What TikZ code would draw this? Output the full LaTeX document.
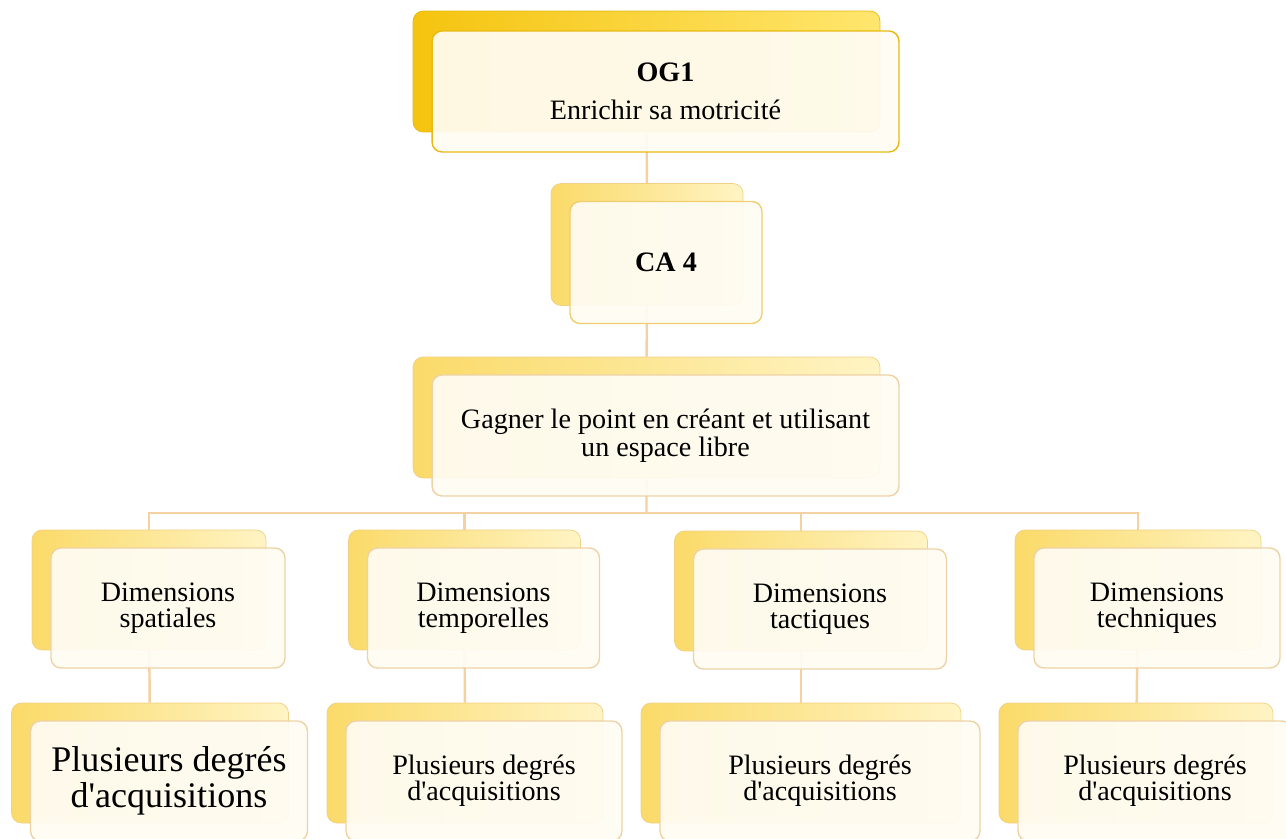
\documentclass[tikz,border=0pt]{standalone}
\usepackage{fontspec}
\setmainfont{Liberation Serif}[Ligatures=TeXOff]
\usetikzlibrary{positioning,backgrounds}

\definecolor{golddark}{RGB}{245,196,15}
\definecolor{goldlight}{RGB}{255,230,110}
\definecolor{goldedge}{RGB}{232,185,20}
\definecolor{backdark}{RGB}{250,218,105}
\definecolor{backlight}{RGB}{255,244,196}
\definecolor{backedge}{RGB}{240,208,130}
\definecolor{cream}{RGB}{255,252,243}
\definecolor{frontedge}{RGB}{238,210,165}
\definecolor{caedge}{RGB}{240,205,110}
\definecolor{linkcol}{RGB}{245,208,160}

\begin{document}
\begin{tikzpicture}[x=0.02cm, y=-0.02cm,
  backbox/.style={rounded corners=0.2cm, draw=backedge, left color=backdark, right color=backlight, xshift=-0.38cm, yshift=0.36cm},
  topback/.style={backbox, draw=goldedge, left color=golddark, right color=goldlight},
  frontbox/.style={rounded corners=0.2cm, draw=frontedge, line width=0.8pt, fill=cream, fill opacity=0.93, text opacity=1, align=center, inner sep=0pt, font=\fontsize{16}{15}\selectfont},
  link/.style={draw=linkcol, line width=1.4pt}]
\useasboundingbox (0,0) rectangle (1286,839);
\clip (0,0) rectangle (1286,839);

% top of the tree
\node[topback, minimum width=9.34cm, minimum height=2.42cm] (og-back) at (665.5,89.5) {};
\node[frontbox, draw=goldedge, minimum width=9.34cm, minimum height=2.42cm] (og) at (665.5,91.5) {\textbf{OG1}\\[7pt]Enrichir sa motricité};

\node[backbox, minimum width=3.84cm, minimum height=2.44cm] (ca-back) at (666,262.5) {};
\node[frontbox, draw=caedge, minimum width=3.84cm, minimum height=2.44cm] (ca) at (666,262.5) {\textbf{CA 4}};

\node[backbox, minimum width=9.34cm, minimum height=2.42cm] (gg-back) at (665.5,435.5) {};
\node[frontbox, minimum width=9.34cm, minimum height=2.42cm, font=\fontsize{16}{16}\selectfont] (gg) at (665.5,435.5) {Gagner le point en créant et utilisant\\un espace libre};

% dimensions
\node[backbox, minimum width=4.68cm, minimum height=2.4cm] (d1-back) at (168,608) {};
\node[frontbox, minimum width=4.68cm, minimum height=2.4cm] (d1) at (168,608) {Dimensions\\spatiales};
\node[backbox, minimum width=4.64cm, minimum height=2.4cm] (d2-back) at (483.5,608) {};
\node[frontbox, minimum width=4.64cm, minimum height=2.4cm] (d2) at (483.5,608) {Dimensions\\temporelles};
\node[backbox, minimum width=5.06cm, minimum height=2.4cm] (d3-back) at (820,609) {};
\node[frontbox, minimum width=5.06cm, minimum height=2.4cm] (d3) at (820,609) {Dimensions\\tactiques};
\node[backbox, minimum width=4.92cm, minimum height=2.4cm] (d4-back) at (1157,608) {};
\node[frontbox, minimum width=4.92cm, minimum height=2.4cm] (d4) at (1157,608) {Dimensions\\techniques};

% degres
\node[backbox, minimum width=5.54cm, minimum height=2.4cm] (p1-back) at (169,781) {};
\node[frontbox, minimum width=5.54cm, minimum height=2.4cm, font=\fontsize{20.5}{20.5}\selectfont] (p1) at (169,781) {Plusieurs degrés\\d'acquisitions};
\node[backbox, minimum width=5.52cm, minimum height=2.4cm] (p2-back) at (484,781) {};
\node[frontbox, minimum width=5.52cm, minimum height=2.4cm] (p2) at (484,781) {Plusieurs degrés\\d'acquisitions};
\node[backbox, minimum width=6.4cm, minimum height=2.4cm] (p3-back) at (820,781) {};
\node[frontbox, minimum width=6.4cm, minimum height=2.4cm] (p3) at (820,781) {Plusieurs degrés\\d'acquisitions};
\node[backbox, minimum width=5.48cm, minimum height=2.4cm] (p4-back) at (1155,781) {};
\node[frontbox, minimum width=5.48cm, minimum height=2.4cm] (p4) at (1155,781) {Plusieurs degrés\\d'acquisitions};

% links behind the boxes
\begin{scope}[on background layer]
\coordinate (bus) at (646.5,513);
\draw[link] (og-back) -- (ca-back);
\draw[link] (ca-back) -- (gg-back);
\draw[link] (gg-back) -- (bus);
\foreach \d in {d1,d2,d3,d4}
  \draw[link] (bus) -| (\d-back.north);
\foreach \i in {1,...,4}
  \draw[link] (d\i-back) -- (p\i-back);
\end{scope}
\end{tikzpicture}
\end{document}
